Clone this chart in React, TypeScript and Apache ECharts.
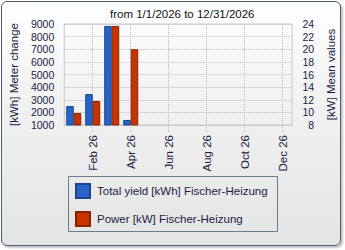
import React, { useEffect, useRef } from "react";
import * as echarts from "echarts";

const months = ["Jan 26", "Feb 26", "Mar 26", "Apr 26", "May 26", "Jun 26", "Jul 26", "Aug 26", "Sep 26", "Oct 26", "Nov 26", "Dec 26"];
const totalYield = [2500, 3450, 8850, 1400, null, null, null, null, null, null, null, null];
const power = [9.9, 11.8, 23.7, 20.0, null, null, null, null, null, null, null, null];
const titleText = "from 1/1/2026 to 12/31/2026";
const leftName = "[kWh] Meter change";
const rightName = "[kW] Mean values";
const seriesNames = ["Total yield [kWh] Fischer-Heizung", "Power [kW] Fischer-Heizung"];

const FONT = "Liberation Sans";
const NAVY = "#1c1c44";

export default function App() {
  const ref = useRef<HTMLDivElement>(null);
  useEffect(() => {
    document.body.style.margin = "0";
    const chart = echarts.init(ref.current!, null, { renderer: "svg" });
    const showOdd = (i: number) => i % 2 === 1;
    chart.setOption({
      animation: false,
      title: {
        text: titleText,
        left: 110,
        top: 8,
        padding: 0,
        textStyle: { fontFamily: FONT, fontSize: 11.5, fontWeight: "normal", color: "#111" },
      },
      grid: {
        left: 63,
        top: 24,
        width: 231,
        height: 101,
        show: true,
        borderColor: "#c8c8c8",
        borderWidth: 1,
        backgroundColor: "transparent",
      },
      legend: {
        orient: "vertical",
        left: 75,
        top: 183,
        itemWidth: 14,
        itemHeight: 14,
        itemGap: 12,
        padding: 0,
        icon: "rect",
        textStyle: { fontFamily: FONT, fontSize: 11.5, color: NAVY, padding: [0, 0, 0, 2] },
        data: seriesNames,
      },
      xAxis: {
        type: "category",
        data: months,
        boundaryGap: true,
        axisLine: { show: false },
        axisTick: {
          show: true,
          alignWithLabel: true,
          interval: showOdd,
          length: 8,
          lineStyle: { color: "#bbbbbb", type: "dotted" },
        },
        splitLine: {
          show: true,
          alignWithLabel: true,
          interval: showOdd,
          lineStyle: { color: "#bbbbbb", type: "dotted" },
        },
        axisLabel: {
          interval: showOdd,
          rotate: 90,
          margin: 10,
          fontFamily: FONT,
          fontSize: 11.5,
          color: NAVY,
        },
      },
      yAxis: [
        {
          type: "value",
          min: 1000,
          max: 9000,
          interval: 1000,
          name: leftName,
          nameLocation: "middle",
          nameGap: 37,
          nameTextStyle: { fontFamily: FONT, fontSize: 11.5, color: NAVY },
          axisLine: { show: false },
          axisTick: { show: false },
          splitLine: { show: true, lineStyle: { color: "#bbbbbb", type: "dotted" } },
          axisLabel: { margin: 10, fontFamily: FONT, fontSize: 10.5, lineHeight: 11, color: NAVY, formatter: (v: number) => String(v) },
        },
        {
          type: "value",
          min: 8,
          max: 24,
          interval: 2,
          name: rightName,
          nameLocation: "middle",
          nameGap: 25,
          nameTextStyle: { fontFamily: FONT, fontSize: 11.5, color: NAVY },
          axisLine: { show: false },
          axisTick: { show: false },
          splitLine: { show: false },
          axisLabel: { margin: 22, align: "right", fontFamily: FONT, fontSize: 10.5, lineHeight: 11, color: NAVY, formatter: (v: number) => String(v) },
        },
      ],
      series: [
        {
          name: seriesNames[0],
          type: "bar",
          yAxisIndex: 0,
          data: totalYield,
          barWidth: 7.5,
          barGap: "0%",
          itemStyle: { color: "#2863c6", borderColor: "#1a4590", borderWidth: 1 },
        },
        {
          name: seriesNames[1],
          type: "bar",
          yAxisIndex: 1,
          data: power,
          barWidth: 7.5,
          barGap: "0%",
          itemStyle: { color: "#c83400", borderColor: "#8a2200", borderWidth: 1 },
        },
      ],
      graphic: [
        {
          type: "rect",
          shape: { x: 68.5, y: 176.5, width: 209, height: 55 },
          style: { fill: "transparent", stroke: "#6c7c8c", lineWidth: 1 },
          silent: true,
          z: -1,
        },
      ],
    });
    return () => chart.dispose();
  }, []);
  return (
    <div style={{ position: "fixed", left: 0, top: 0, width: 345, height: 250, background: "#fff" }}>
      <div
        style={{
          position: "absolute",
          left: 1,
          top: 1,
          width: 338,
          height: 243,
          border: "1px solid #4d5d6d",
          borderRadius: 6,
          background: "linear-gradient(#ffffff, #f2f2f2 40%, #e4e4e4)",
          boxShadow: "2px 2px 2px #c4c4c4",
        }}
      />
      <div ref={ref} style={{ position: "absolute", left: 0, top: 0, width: 345, height: 250 }} />
    </div>
  );
}
